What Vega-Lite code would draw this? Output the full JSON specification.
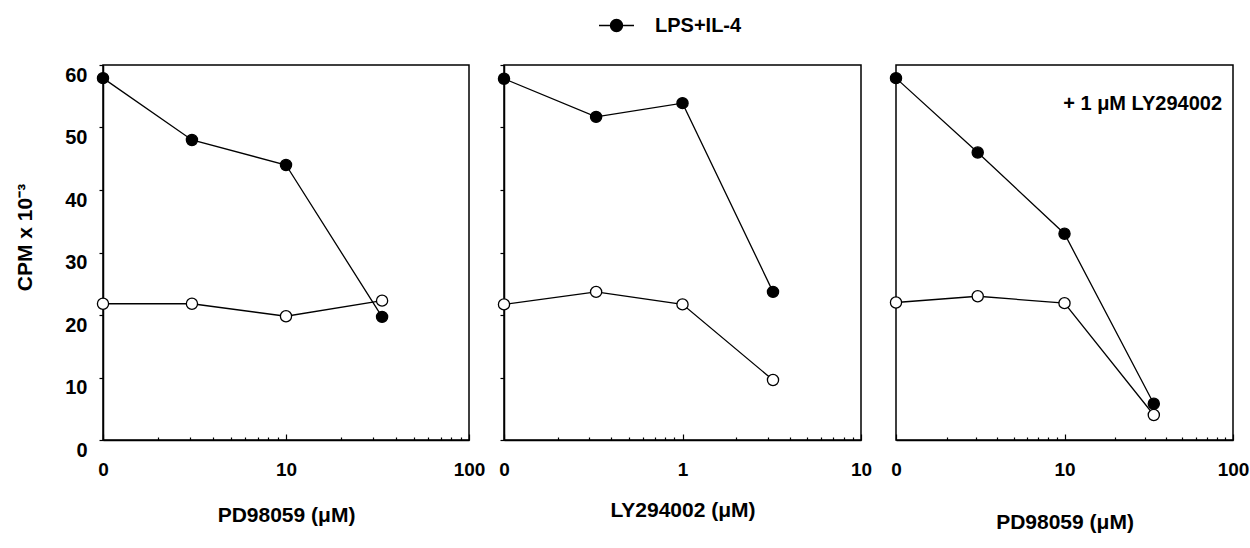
{
  "$schema": "https://vega.github.io/schema/vega-lite/v6.json",
  "padding": {"left": 14, "top": 6, "right": 5, "bottom": 5},
  "background": "white",
  "spacing": 35,
  "bounds": "flush",
  "datasets": {
    "p1": [
      {"dose": "0", "pos": 0, "cpm": 57.9, "series": "LPS+IL-4"},
      {"dose": "3", "pos": 0.486, "cpm": 48.0, "series": "LPS+IL-4"},
      {"dose": "10", "pos": 1, "cpm": 44.0, "series": "LPS+IL-4"},
      {"dose": "30", "pos": 1.525, "cpm": 19.7, "series": "LPS+IL-4"},
      {"dose": "0", "pos": 0, "cpm": 21.8, "series": "Control"},
      {"dose": "3", "pos": 0.486, "cpm": 21.8, "series": "Control"},
      {"dose": "10", "pos": 1, "cpm": 19.8, "series": "Control"},
      {"dose": "30", "pos": 1.525, "cpm": 22.3, "series": "Control"}
    ],
    "p2": [
      {"dose": "0", "pos": 0, "cpm": 57.8, "series": "LPS+IL-4"},
      {"dose": "0.3", "pos": 0.516, "cpm": 51.7, "series": "LPS+IL-4"},
      {"dose": "1", "pos": 1, "cpm": 53.9, "series": "LPS+IL-4"},
      {"dose": "3", "pos": 1.507, "cpm": 23.7, "series": "LPS+IL-4"},
      {"dose": "0", "pos": 0, "cpm": 21.7, "series": "Control"},
      {"dose": "0.3", "pos": 0.516, "cpm": 23.7, "series": "Control"},
      {"dose": "1", "pos": 1, "cpm": 21.7, "series": "Control"},
      {"dose": "3", "pos": 1.507, "cpm": 9.6, "series": "Control"}
    ],
    "p3": [
      {"dose": "0", "pos": 0, "cpm": 57.9, "series": "LPS+IL-4"},
      {"dose": "3", "pos": 0.485, "cpm": 46.0, "series": "LPS+IL-4"},
      {"dose": "10", "pos": 1, "cpm": 33.0, "series": "LPS+IL-4"},
      {"dose": "30", "pos": 1.53, "cpm": 5.8, "series": "LPS+IL-4"},
      {"dose": "0", "pos": 0, "cpm": 22.0, "series": "Control"},
      {"dose": "3", "pos": 0.485, "cpm": 23.0, "series": "Control"},
      {"dose": "10", "pos": 1, "cpm": 21.9, "series": "Control"},
      {"dose": "30", "pos": 1.53, "cpm": 4.0, "series": "Control"}
    ],
    "note": [
      {"label": "+ 1 μM LY294002", "pos": 1.935, "cpm": 53.7}
    ]
  },
  "config": {
    "font": "Liberation Sans",
    "view": {"stroke": "black", "strokeWidth": 1.5},
    "axis": {
      "domainColor": "black", "domainWidth": 1.5, "tickColor": "black", "tickWidth": 1.2,
      "grid": false, "labelColor": "black", "labelFontWeight": "bold", "titleColor": "black",
      "titleFontWeight": "bold", "labelFont": "Liberation Sans", "titleFont": "Liberation Sans"
    }
  },
  "resolve": {"legend": {"fill": "independent"}},
  "hconcat": [
    {
      "width": 366, "height": 375,
      "data": {"name": "p1"},
      "layer": [
        {
          "mark": {"type": "line", "color": "black", "strokeWidth": 1.3},
          "encoding": {
            "x": {"field": "pos", "type": "quantitative", "scale": {"domain": [0, 2], "nice": false, "zero": false},
              "axis": {"values": [0, 1, 2], "labelExpr": "datum.value==0?'0':datum.value==1?'10':'100'", "title": "PD98059 (μM)",
                "labelFontSize": 19, "titleFontSize": 21, "tickSize": -6, "labelPadding": 26, "titlePadding": 25, "labelFlush": false}},
            "y": {"field": "cpm", "type": "quantitative", "scale": {"domain": [0, 60], "nice": false},
              "axis": {"values": [0, 5, 10, 15, 20, 25, 30, 35, 40, 45, 50, 55, 60], "labelExpr": "datum.value%10==0?datum.label:''",
                "title": "CPM x 10⁻³", "labelFontSize": 20, "titleFontSize": 21, "tickSize": 4, "labelPadding": 12, "labelOffset": 10, "titlePadding": 29, "titleY": 172}},
            "detail": {"field": "series"}
          }
        },
        {
          "mark": {"type": "point", "filled": true, "size": 125, "stroke": "black", "strokeWidth": 1.3, "opacity": 1},
          "encoding": {
            "x": {"field": "pos", "type": "quantitative",
              "axis": {"orient": "bottom", "values": [0.301, 0.477, 0.602, 0.699, 0.778, 0.845, 0.903, 0.954, 1.301, 1.477, 1.602, 1.699, 1.778, 1.845, 1.903, 1.954], "labels": false, "domain": false, "tickSize": -3, "title": null}},
            "y": {"field": "cpm", "type": "quantitative"},
            "fill": {"field": "series", "type": "nominal", "scale": {"domain": ["LPS+IL-4", "Control"], "range": ["black", "white"]}, "legend": null}
          }
        }
      ],
      "resolve": {"axis": {"x": "independent"}}
    },
    {
      "width": 357, "height": 375,
      "data": {"name": "p2"},
      "layer": [
        {
          "mark": {"type": "line", "color": "black", "strokeWidth": 1.3},
          "encoding": {
            "x": {"field": "pos", "type": "quantitative", "scale": {"domain": [0, 2], "nice": false, "zero": false},
              "axis": {"values": [0, 1, 2], "labelExpr": "datum.value==0?'0':datum.value==1?'1':'10'", "title": "LY294002 (μM)",
                "labelFontSize": 19, "titleFontSize": 21, "tickSize": -6, "labelPadding": 26, "titlePadding": 20, "labelFlush": false}},
            "y": {"field": "cpm", "type": "quantitative", "scale": {"domain": [0, 60], "nice": false},
              "axis": {"values": [0, 5, 10, 15, 20, 25, 30, 35, 40, 45, 50, 55, 60], "labels": false, "title": null, "tickSize": 4}},
            "detail": {"field": "series"}
          }
        },
        {
          "mark": {"type": "point", "filled": true, "size": 125, "stroke": "black", "strokeWidth": 1.3, "opacity": 1},
          "encoding": {
            "x": {"field": "pos", "type": "quantitative",
              "axis": {"orient": "bottom", "values": [0.301, 0.477, 0.602, 0.699, 0.778, 0.845, 0.903, 0.954, 1.301, 1.477, 1.602, 1.699, 1.778, 1.845, 1.903, 1.954], "labels": false, "domain": false, "tickSize": -3, "title": null}},
            "y": {"field": "cpm", "type": "quantitative"},
            "fill": {"field": "series", "type": "nominal", "scale": {"domain": ["LPS+IL-4", "Control"], "range": ["black", "white"]},
              "legend": {"orient": "none", "legendX": 94, "legendY": -58, "title": null, "values": ["LPS+IL-4"], "direction": "horizontal",
                "symbolType": "M-1,0H-0.34M0.34,0H1M-0.34,0A0.34,0.34,0,1,1,0.34,0A0.34,0.34,0,1,1,-0.34,0Z",
                "symbolSize": 1225, "symbolStrokeColor": "black", "symbolStrokeWidth": 1.5,
                "labelFontSize": 20, "labelFontWeight": "bold", "labelColor": "black", "labelOffset": 20, "labelFont": "Liberation Sans"}}
          }
        }
      ],
      "resolve": {"axis": {"x": "independent"}}
    },
    {
      "width": 337, "height": 375,
      "data": {"name": "p3"},
      "layer": [
        {
          "mark": {"type": "line", "color": "black", "strokeWidth": 1.3},
          "encoding": {
            "x": {"field": "pos", "type": "quantitative", "scale": {"domain": [0, 2], "nice": false, "zero": false},
              "axis": {"values": [0, 1, 2], "labelExpr": "datum.value==0?'0':datum.value==1?'10':'100'", "title": "PD98059 (μM)",
                "labelFontSize": 19, "titleFontSize": 21, "tickSize": -6, "labelPadding": 26, "titlePadding": 32, "labelFlush": false}},
            "y": {"field": "cpm", "type": "quantitative", "scale": {"domain": [0, 60], "nice": false},
              "axis": {"values": [0, 5, 10, 15, 20, 25, 30, 35, 40, 45, 50, 55, 60], "labels": false, "title": null, "tickSize": 4}},
            "detail": {"field": "series"}
          }
        },
        {
          "mark": {"type": "point", "filled": true, "size": 125, "stroke": "black", "strokeWidth": 1.3, "opacity": 1},
          "encoding": {
            "x": {"field": "pos", "type": "quantitative",
              "axis": {"orient": "bottom", "values": [0.301, 0.477, 0.602, 0.699, 0.778, 0.845, 0.903, 0.954, 1.301, 1.477, 1.602, 1.699, 1.778, 1.845, 1.903, 1.954], "labels": false, "domain": false, "tickSize": -3, "title": null}},
            "y": {"field": "cpm", "type": "quantitative"},
            "fill": {"field": "series", "type": "nominal", "scale": {"domain": ["LPS+IL-4", "Control"], "range": ["black", "white"]}, "legend": null}
          }
        },
        {
          "data": {"name": "note"},
          "mark": {"type": "text", "align": "right", "baseline": "middle", "fontSize": 20, "fontWeight": "bold", "color": "black", "font": "Liberation Sans"},
          "encoding": {
            "x": {"field": "pos", "type": "quantitative", "axis": null},
            "y": {"field": "cpm", "type": "quantitative", "axis": null},
            "text": {"field": "label"}
          }
        }
      ],
      "resolve": {"axis": {"x": "independent"}}
    }
  ]
}
